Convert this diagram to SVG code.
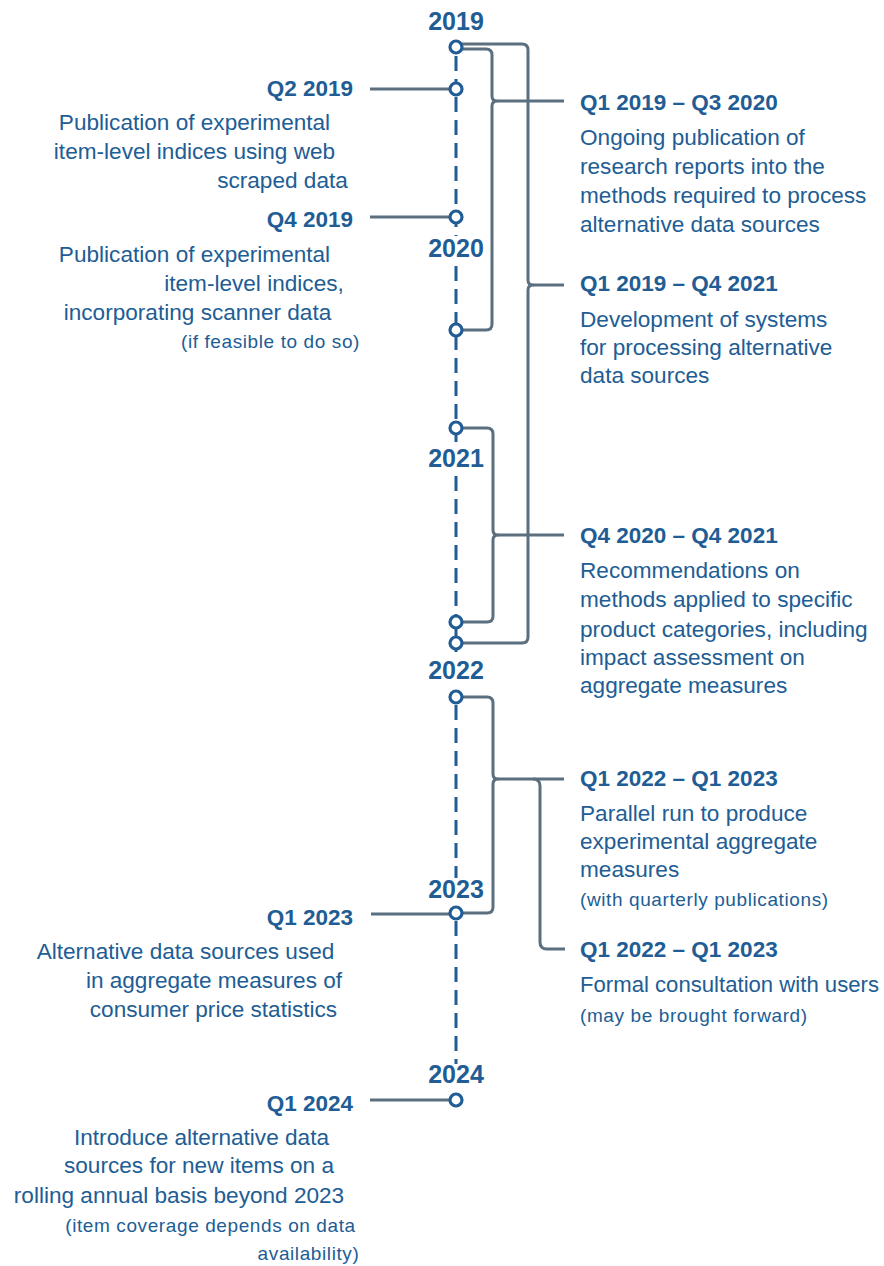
<svg xmlns="http://www.w3.org/2000/svg" width="884" height="1266" viewBox="0 0 884 1266">
<style>
  text { font-family: "Liberation Sans", Arial, sans-serif; fill: #215d94; }
  .yr { font-size: 25px; font-weight: bold; text-anchor: middle; }
  .lbl { font-size: 22.5px; font-weight: bold; }
  .lblL { font-size: 22.5px; font-weight: bold; text-anchor: end; }
  .txt { font-size: 22.6px; }
  .txtL { font-size: 22.6px; text-anchor: middle; }
  .sm { font-size: 19px; letter-spacing: 0.6px; }
  .smL { font-size: 19px; letter-spacing: 0.6px; text-anchor: middle; }
  .axis { fill: none; stroke: #215d94; stroke-width: 3; stroke-dasharray: 15 8; }
  .axisS { fill: none; stroke: #215d94; stroke-width: 3; }
  .con { fill: none; stroke: #5b6f7e; stroke-width: 3; stroke-linecap: butt; stroke-linejoin: round; }
  .dot { fill: #ffffff; stroke: #215d94; stroke-width: 3.2; }
</style>
<rect width="884" height="1266" fill="#ffffff"/>

<g id="connectors">
  <!-- timeline axis -->
  <path class="axis" d="M456 56 V82 M456 97 V236 M456 266 V446 M456 476 V660 M456 705 V878 M456 921 V1064"/>
  <path class="axisS" d="M456 622 V643"/>
  <!-- left lead lines -->
  <path class="con" d="M370 89 H450 M370 217 H450 M371 914 H450 M370 1100 H450"/>
  <!-- bracket Q1 2019 - Q3 2020 -->
  <path class="con" d="M462 49 H486 Q492 49 492 55 V96 Q492 101 497 101 Q492 101 492 106 V324 Q492 330 486 330 H462"/>
  <path class="con" d="M497 101 H564"/>
  <!-- bracket Q1 2019 - Q4 2021 -->
  <path class="con" d="M462 44 H522 Q528 44 528 50 V280 Q528 285 533 285 Q528 285 528 290 V637 Q528 643 522 643 H462"/>
  <path class="con" d="M533 285 H564"/>
  <!-- bracket Q4 2020 - Q4 2021 -->
  <path class="con" d="M462 428 H487 Q493 428 493 434 V530 Q493 535 498 535 Q493 535 493 540 V616 Q493 622 487 622 H462"/>
  <path class="con" d="M498 535 H564"/>
  <!-- bracket Q1 2022 - Q1 2023 -->
  <path class="con" d="M462 697 H487 Q493 697 493 703 V774 Q493 779 498 779 Q493 779 493 784 V907 Q493 913 487 913 H462"/>
  <path class="con" d="M498 779 H564"/>
  <!-- branch to formal consultation -->
  <path class="con" d="M533 779 Q540 779 540 786 V942 Q540 949 547 949 H565"/>
</g>

<g id="points">
  <circle class="dot" cx="456" cy="47" r="6"/>
  <circle class="dot" cx="456" cy="89" r="6"/>
  <circle class="dot" cx="456" cy="217" r="6"/>
  <circle class="dot" cx="456" cy="330" r="6"/>
  <circle class="dot" cx="456" cy="428" r="6"/>
  <circle class="dot" cx="456" cy="622" r="6"/>
  <circle class="dot" cx="456" cy="643" r="6"/>
  <circle class="dot" cx="456" cy="697" r="6"/>
  <circle class="dot" cx="456" cy="913" r="6"/>
  <circle class="dot" cx="456" cy="1100" r="6"/>
</g>

<g id="years">
  <text class="yr" x="456" y="30">2019</text>
  <text class="yr" x="456" y="257">2020</text>
  <text class="yr" x="456" y="467">2021</text>
  <text class="yr" x="456" y="679">2022</text>
  <text class="yr" x="456" y="898">2023</text>
  <text class="yr" x="456" y="1083">2024</text>
</g>

<g id="q2-2019">
  <text class="lblL" x="353" y="96">Q2 2019</text>
  <text class="txtL" x="194.5" y="130">Publication of experimental</text>
  <text class="txtL" x="194.5" y="159">item-level indices using web</text>
  <text class="txtL" x="282.5" y="188">scraped data</text>
</g>

<g id="q4-2019">
  <text class="lblL" x="353" y="227">Q4 2019</text>
  <text class="txtL" x="194.5" y="262">Publication of experimental</text>
  <text class="txtL" x="254" y="291">item-level indices,</text>
  <text class="txtL" x="197.5" y="320">incorporating scanner data</text>
  <text class="smL" x="270.5" y="348">(if feasible to do so)</text>
</g>

<g id="q1-2023">
  <text class="lblL" x="353" y="925">Q1 2023</text>
  <text class="txtL" x="185.5" y="959">Alternative data sources used</text>
  <text class="txtL" x="214" y="988">in aggregate measures of</text>
  <text class="txtL" x="213.5" y="1017">consumer price statistics</text>
</g>

<g id="q1-2024">
  <text class="lblL" x="353" y="1111">Q1 2024</text>
  <text class="txtL" x="201.5" y="1145">Introduce alternative data</text>
  <text class="txtL" x="199" y="1173">sources for new items on a</text>
  <text class="txtL" x="179" y="1203">rolling annual basis beyond 2023</text>
  <text class="smL" x="210.5" y="1232">(item coverage depends on data</text>
  <text class="smL" x="308.5" y="1260">availability)</text>
</g>

<g id="q1-2019-q3-2020">
  <text class="lbl" x="580" y="110">Q1 2019 – Q3 2020</text>
  <text class="txt" x="580" y="145">Ongoing publication of</text>
  <text class="txt" x="580" y="174">research reports into the</text>
  <text class="txt" x="580" y="203">methods required to process</text>
  <text class="txt" x="580" y="232">alternative data sources</text>
</g>

<g id="q1-2019-q4-2021">
  <text class="lbl" x="580" y="291">Q1 2019 – Q4 2021</text>
  <text class="txt" x="580" y="327">Development of systems</text>
  <text class="txt" x="580" y="355">for processing alternative</text>
  <text class="txt" x="580" y="383">data sources</text>
</g>

<g id="q4-2020-q4-2021">
  <text class="lbl" x="580" y="543">Q4 2020 – Q4 2021</text>
  <text class="txt" x="580" y="578">Recommendations on</text>
  <text class="txt" x="580" y="607">methods applied to specific</text>
  <text class="txt" x="580" y="637">product categories, including</text>
  <text class="txt" x="580" y="665">impact assessment on</text>
  <text class="txt" x="580" y="693">aggregate measures</text>
</g>

<g id="q1-2022-q1-2023-parallel">
  <text class="lbl" x="580" y="786">Q1 2022 – Q1 2023</text>
  <text class="txt" x="580" y="821">Parallel run to produce</text>
  <text class="txt" x="580" y="849">experimental aggregate</text>
  <text class="txt" x="580" y="877">measures</text>
  <text class="sm" x="580" y="906">(with quarterly publications)</text>
</g>

<g id="q1-2022-q1-2023-consultation">
  <text class="lbl" x="580" y="957">Q1 2022 – Q1 2023</text>
  <text class="txt" x="580" y="992" textLength="299" lengthAdjust="spacingAndGlyphs">Formal consultation with users</text>
  <text class="sm" x="580" y="1022">(may be brought forward)</text>
</g>
</svg>
